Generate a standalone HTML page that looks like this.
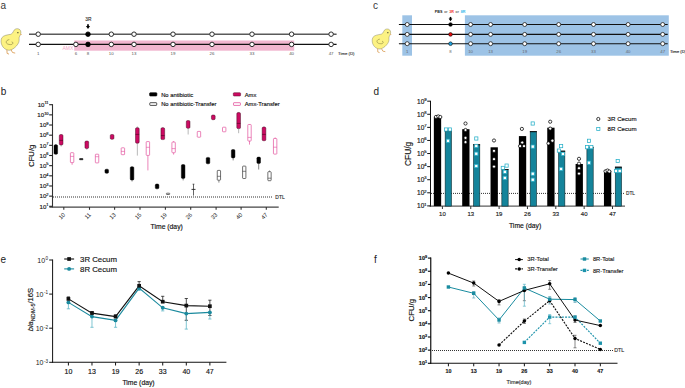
<!DOCTYPE html>
<html><head><meta charset="utf-8"><title>Figure</title>
<style>
html,body{margin:0;padding:0;background:#fff;}
body{width:685px;height:388px;overflow:hidden;}
svg{display:block;font-family:"Liberation Sans", sans-serif;}
</style></head><body>
<svg width="685" height="388" viewBox="0 0 685 388">
<rect width="685" height="388" fill="#fff"/>
<text x="0.60" y="8.60" font-size="10" text-anchor="start" fill="#3a3a3a"  font-weight="normal" >a</text>
<g>
<path d="M10.8,34.3 C12.2,33.6 13.0,32.6 13.5,31.2 C14.2,29.4 15.8,28.6 17.4,28.7 C19.4,28.8 20.9,30.2 20.9,32.3 C20.9,33.9 20.5,34.9 19.9,35.8 C19.3,36.7 19.0,37.6 19.1,38.6 C19.3,40.6 19.0,42.4 17.9,44.0 C16.4,46.4 13.8,48.8 10.8,50.0 C7.6,51.0 4.0,48.9 2.3,46.0 C0.8,43.4 0.6,40.0 1.8,37.8 C3.4,35.4 7.2,34.8 10.8,34.3 Z" fill="#fcf283" stroke="#555540" stroke-width="0.35"/>
<path d="M9.3,39.6 C7.6,39.8 6.1,40.8 6.2,42.2 C6.3,43.8 8.4,44.6 10.6,44.6 C12.0,44.6 13.0,43.8 12.9,42.9 C12.8,42.2 12.2,41.8 11.6,41.9" fill="none" stroke="#5e5a2c" stroke-width="0.45"/>
<ellipse cx="17.9" cy="32.7" rx="0.75" ry="0.65" fill="#4a4a30"/>
<path d="M20.6,33.8 L22.0,34.5 L20.6,35.2 Z" fill="#eba24a"/>
<path d="M6.9,49.8 L7.1,53.4 L9.0,54.1 M11.0,49.6 L12.5,52.5 L15.2,53.1" fill="none" stroke="#dca25c" stroke-width="0.9"/>
</g>
<rect x="74.20" y="40.50" width="220.00" height="10.20" fill="#f1b6cf" stroke="none" stroke-width="1" />
<line x1="29.00" y1="34.20" x2="336.60" y2="34.20" stroke="#5a5a5a" stroke-width="1.6" />
<line x1="29.00" y1="44.40" x2="336.60" y2="44.40" stroke="#111" stroke-width="1.15" />
<circle cx="38.20" cy="34.20" r="2.25" fill="#fff" stroke="#222" stroke-width="0.95"/>
<circle cx="38.20" cy="44.40" r="2.25" fill="#fff" stroke="#222" stroke-width="0.95"/>
<text x="38.20" y="55.20" font-size="4.4" text-anchor="middle" fill="#555"  font-weight="normal" >1</text>
<circle cx="75.90" cy="44.40" r="2.25" fill="#fff" stroke="#222" stroke-width="0.95"/>
<text x="75.90" y="55.20" font-size="4.4" text-anchor="middle" fill="#555"  font-weight="normal" >6</text>
<circle cx="88.00" cy="34.20" r="2.3" fill="#000" stroke="#000" stroke-width="0.8"/>
<circle cx="88.00" cy="44.40" r="2.3" fill="#000" stroke="#000" stroke-width="0.8"/>
<text x="88.00" y="55.20" font-size="4.4" text-anchor="middle" fill="#555"  font-weight="normal" >8</text>
<circle cx="111.30" cy="34.20" r="2.25" fill="#fff" stroke="#222" stroke-width="0.95"/>
<circle cx="111.30" cy="44.40" r="2.25" fill="#fff" stroke="#222" stroke-width="0.95"/>
<text x="111.30" y="55.20" font-size="4.4" text-anchor="middle" fill="#555"  font-weight="normal" >10</text>
<circle cx="134.00" cy="34.20" r="2.25" fill="#fff" stroke="#222" stroke-width="0.95"/>
<circle cx="134.00" cy="44.40" r="2.25" fill="#fff" stroke="#222" stroke-width="0.95"/>
<text x="134.00" y="55.20" font-size="4.4" text-anchor="middle" fill="#555"  font-weight="normal" >13</text>
<circle cx="173.00" cy="34.20" r="2.25" fill="#fff" stroke="#222" stroke-width="0.95"/>
<circle cx="173.00" cy="44.40" r="2.25" fill="#fff" stroke="#222" stroke-width="0.95"/>
<text x="173.00" y="55.20" font-size="4.4" text-anchor="middle" fill="#555"  font-weight="normal" >19</text>
<circle cx="212.00" cy="34.20" r="2.25" fill="#fff" stroke="#222" stroke-width="0.95"/>
<circle cx="212.00" cy="44.40" r="2.25" fill="#fff" stroke="#222" stroke-width="0.95"/>
<text x="212.00" y="55.20" font-size="4.4" text-anchor="middle" fill="#555"  font-weight="normal" >26</text>
<circle cx="252.00" cy="34.20" r="2.25" fill="#fff" stroke="#222" stroke-width="0.95"/>
<circle cx="252.00" cy="44.40" r="2.25" fill="#fff" stroke="#222" stroke-width="0.95"/>
<text x="252.00" y="55.20" font-size="4.4" text-anchor="middle" fill="#555"  font-weight="normal" >33</text>
<circle cx="291.60" cy="34.20" r="2.25" fill="#fff" stroke="#222" stroke-width="0.95"/>
<circle cx="291.60" cy="44.40" r="2.25" fill="#fff" stroke="#222" stroke-width="0.95"/>
<text x="291.60" y="55.20" font-size="4.4" text-anchor="middle" fill="#555"  font-weight="normal" >40</text>
<circle cx="331.10" cy="34.20" r="2.25" fill="#fff" stroke="#222" stroke-width="0.95"/>
<circle cx="331.10" cy="44.40" r="2.25" fill="#fff" stroke="#222" stroke-width="0.95"/>
<text x="331.10" y="55.20" font-size="4.4" text-anchor="middle" fill="#555"  font-weight="normal" >47</text>
<text x="88.30" y="20.80" font-size="4.8" text-anchor="middle" fill="#333" stroke="#333" stroke-width="0.15" font-weight="normal" >3R</text>
<line x1="88.00" y1="24.30" x2="88.00" y2="26.80" stroke="#000" stroke-width="1.7" />
<path d="M85.9,26.1 L90.1,26.1 L88,28.9 Z" fill="#000"/>
<text x="67.80" y="50.00" font-size="5" text-anchor="middle" fill="#f3a6c6"  font-weight="normal" >AMX</text>
<text x="338.00" y="55.20" font-size="4.25" text-anchor="start" fill="#444" stroke="#444" stroke-width="0.15" font-weight="normal" >Time (D)</text>
<text x="373.10" y="8.50" font-size="10" text-anchor="start" fill="#3a3a3a"  font-weight="normal" >c</text>
<g transform="translate(371.2,2.3) scale(0.93)"><g>
<path d="M10.8,34.3 C12.2,33.6 13.0,32.6 13.5,31.2 C14.2,29.4 15.8,28.6 17.4,28.7 C19.4,28.8 20.9,30.2 20.9,32.3 C20.9,33.9 20.5,34.9 19.9,35.8 C19.3,36.7 19.0,37.6 19.1,38.6 C19.3,40.6 19.0,42.4 17.9,44.0 C16.4,46.4 13.8,48.8 10.8,50.0 C7.6,51.0 4.0,48.9 2.3,46.0 C0.8,43.4 0.6,40.0 1.8,37.8 C3.4,35.4 7.2,34.8 10.8,34.3 Z" fill="#fcf283" stroke="#555540" stroke-width="0.35"/>
<path d="M9.3,39.6 C7.6,39.8 6.1,40.8 6.2,42.2 C6.3,43.8 8.4,44.6 10.6,44.6 C12.0,44.6 13.0,43.8 12.9,42.9 C12.8,42.2 12.2,41.8 11.6,41.9" fill="none" stroke="#5e5a2c" stroke-width="0.45"/>
<ellipse cx="17.9" cy="32.7" rx="0.75" ry="0.65" fill="#4a4a30"/>
<path d="M20.6,33.8 L22.0,34.5 L20.6,35.2 Z" fill="#eba24a"/>
<path d="M6.9,49.8 L7.1,53.4 L9.0,54.1 M11.0,49.6 L12.5,52.5 L15.2,53.1" fill="none" stroke="#dca25c" stroke-width="0.9"/>
</g></g>
<rect x="402.30" y="15.30" width="9.70" height="40.40" fill="#9dc3e6" stroke="none" stroke-width="1" />
<rect x="464.90" y="15.30" width="203.90" height="40.40" fill="#9dc3e6" stroke="none" stroke-width="1" />
<line x1="398.90" y1="24.50" x2="667.70" y2="24.50" stroke="#111" stroke-width="1.1" />
<line x1="398.90" y1="34.40" x2="667.70" y2="34.40" stroke="#111" stroke-width="1.1" />
<line x1="398.90" y1="43.70" x2="667.70" y2="43.70" stroke="#111" stroke-width="1.1" />
<circle cx="407.20" cy="24.50" r="2.0" fill="#fff" stroke="#222" stroke-width="0.8"/>
<circle cx="407.20" cy="34.40" r="2.0" fill="#fff" stroke="#222" stroke-width="0.8"/>
<circle cx="407.20" cy="43.70" r="2.0" fill="#fff" stroke="#222" stroke-width="0.8"/>
<text x="407.20" y="53.40" font-size="4.3" text-anchor="middle" fill="#666"  font-weight="normal" >1</text>
<circle cx="450.50" cy="24.50" r="1.85" fill="#000" stroke="#111" stroke-width="0.6"/>
<circle cx="450.50" cy="34.40" r="1.85" fill="#e50c0c" stroke="#111" stroke-width="0.6"/>
<circle cx="450.50" cy="43.70" r="1.85" fill="#1fa3e0" stroke="#111" stroke-width="0.6"/>
<text x="450.50" y="53.40" font-size="4.3" text-anchor="middle" fill="#666"  font-weight="normal" >8</text>
<circle cx="470.60" cy="24.50" r="2.0" fill="#fff" stroke="#222" stroke-width="0.8"/>
<circle cx="470.60" cy="34.40" r="2.0" fill="#fff" stroke="#222" stroke-width="0.8"/>
<circle cx="470.60" cy="43.70" r="2.0" fill="#fff" stroke="#222" stroke-width="0.8"/>
<text x="470.60" y="53.40" font-size="4.3" text-anchor="middle" fill="#666"  font-weight="normal" >10</text>
<circle cx="490.60" cy="24.50" r="2.0" fill="#fff" stroke="#222" stroke-width="0.8"/>
<circle cx="490.60" cy="34.40" r="2.0" fill="#fff" stroke="#222" stroke-width="0.8"/>
<circle cx="490.60" cy="43.70" r="2.0" fill="#fff" stroke="#222" stroke-width="0.8"/>
<text x="490.60" y="53.40" font-size="4.3" text-anchor="middle" fill="#666"  font-weight="normal" >13</text>
<circle cx="524.70" cy="24.50" r="2.0" fill="#fff" stroke="#222" stroke-width="0.8"/>
<circle cx="524.70" cy="34.40" r="2.0" fill="#fff" stroke="#222" stroke-width="0.8"/>
<circle cx="524.70" cy="43.70" r="2.0" fill="#fff" stroke="#222" stroke-width="0.8"/>
<text x="524.70" y="53.40" font-size="4.3" text-anchor="middle" fill="#666"  font-weight="normal" >19</text>
<circle cx="558.70" cy="24.50" r="2.0" fill="#fff" stroke="#222" stroke-width="0.8"/>
<circle cx="558.70" cy="34.40" r="2.0" fill="#fff" stroke="#222" stroke-width="0.8"/>
<circle cx="558.70" cy="43.70" r="2.0" fill="#fff" stroke="#222" stroke-width="0.8"/>
<text x="558.70" y="53.40" font-size="4.3" text-anchor="middle" fill="#666"  font-weight="normal" >26</text>
<circle cx="593.50" cy="24.50" r="2.0" fill="#fff" stroke="#222" stroke-width="0.8"/>
<circle cx="593.50" cy="34.40" r="2.0" fill="#fff" stroke="#222" stroke-width="0.8"/>
<circle cx="593.50" cy="43.70" r="2.0" fill="#fff" stroke="#222" stroke-width="0.8"/>
<text x="593.50" y="53.40" font-size="4.3" text-anchor="middle" fill="#666"  font-weight="normal" >33</text>
<circle cx="628.10" cy="24.50" r="2.0" fill="#fff" stroke="#222" stroke-width="0.8"/>
<circle cx="628.10" cy="34.40" r="2.0" fill="#fff" stroke="#222" stroke-width="0.8"/>
<circle cx="628.10" cy="43.70" r="2.0" fill="#fff" stroke="#222" stroke-width="0.8"/>
<text x="628.10" y="53.40" font-size="4.3" text-anchor="middle" fill="#666"  font-weight="normal" >40</text>
<circle cx="662.70" cy="24.50" r="2.0" fill="#fff" stroke="#222" stroke-width="0.8"/>
<circle cx="662.70" cy="34.40" r="2.0" fill="#fff" stroke="#222" stroke-width="0.8"/>
<circle cx="662.70" cy="43.70" r="2.0" fill="#fff" stroke="#222" stroke-width="0.8"/>
<text x="662.70" y="53.40" font-size="4.3" text-anchor="middle" fill="#666"  font-weight="normal" >47</text>
<text x="450.1" y="13.2" font-size="3.7" text-anchor="middle" font-weight="bold" fill="#222" word-spacing="0.7">PBS <tspan font-weight="normal">or</tspan> <tspan fill="#f03030">3R</tspan> <tspan font-weight="normal">or</tspan> <tspan fill="#3ab8ea">8R</tspan></text>
<line x1="450.50" y1="16.90" x2="450.50" y2="19.20" stroke="#000" stroke-width="1.6" />
<path d="M448.6,18.6 L452.4,18.6 L450.5,21.2 Z" fill="#000"/>
<text x="669.90" y="53.30" font-size="4.25" text-anchor="start" fill="#333" stroke="#333" stroke-width="0.15" font-weight="normal" >Time (D)</text>
<text x="0.70" y="94.90" font-size="10" text-anchor="start" fill="#222"  font-weight="normal" >b</text>
<line x1="52.50" y1="104.20" x2="52.50" y2="207.50" stroke="#333" stroke-width="1.1" />
<line x1="49.40" y1="207.10" x2="278.70" y2="207.10" stroke="#444" stroke-width="1.25" />
<line x1="49.20" y1="206.30" x2="52.50" y2="206.30" stroke="#222" stroke-width="1.1" />
<text x="48.60" y="208.50" font-size="6.1" text-anchor="end" fill="#1a1a1a" stroke="#1a1a1a" stroke-width="0.18" font-weight="normal">10<tspan font-size="4.0" dy="-2.44" dx="0">1</tspan></text>
<line x1="49.20" y1="196.14" x2="52.50" y2="196.14" stroke="#222" stroke-width="1.1" />
<text x="48.60" y="198.34" font-size="6.1" text-anchor="end" fill="#1a1a1a" stroke="#1a1a1a" stroke-width="0.18" font-weight="normal">10<tspan font-size="4.0" dy="-2.44" dx="0">2</tspan></text>
<line x1="49.20" y1="185.98" x2="52.50" y2="185.98" stroke="#222" stroke-width="1.1" />
<text x="48.60" y="188.18" font-size="6.1" text-anchor="end" fill="#1a1a1a" stroke="#1a1a1a" stroke-width="0.18" font-weight="normal">10<tspan font-size="4.0" dy="-2.44" dx="0">3</tspan></text>
<line x1="49.20" y1="175.82" x2="52.50" y2="175.82" stroke="#222" stroke-width="1.1" />
<text x="48.60" y="178.02" font-size="6.1" text-anchor="end" fill="#1a1a1a" stroke="#1a1a1a" stroke-width="0.18" font-weight="normal">10<tspan font-size="4.0" dy="-2.44" dx="0">4</tspan></text>
<line x1="49.20" y1="165.66" x2="52.50" y2="165.66" stroke="#222" stroke-width="1.1" />
<text x="48.60" y="167.86" font-size="6.1" text-anchor="end" fill="#1a1a1a" stroke="#1a1a1a" stroke-width="0.18" font-weight="normal">10<tspan font-size="4.0" dy="-2.44" dx="0">5</tspan></text>
<line x1="49.20" y1="155.50" x2="52.50" y2="155.50" stroke="#222" stroke-width="1.1" />
<text x="48.60" y="157.70" font-size="6.1" text-anchor="end" fill="#1a1a1a" stroke="#1a1a1a" stroke-width="0.18" font-weight="normal">10<tspan font-size="4.0" dy="-2.44" dx="0">6</tspan></text>
<line x1="49.20" y1="145.34" x2="52.50" y2="145.34" stroke="#222" stroke-width="1.1" />
<text x="48.60" y="147.54" font-size="6.1" text-anchor="end" fill="#1a1a1a" stroke="#1a1a1a" stroke-width="0.18" font-weight="normal">10<tspan font-size="4.0" dy="-2.44" dx="0">7</tspan></text>
<line x1="49.20" y1="135.18" x2="52.50" y2="135.18" stroke="#222" stroke-width="1.1" />
<text x="48.60" y="137.38" font-size="6.1" text-anchor="end" fill="#1a1a1a" stroke="#1a1a1a" stroke-width="0.18" font-weight="normal">10<tspan font-size="4.0" dy="-2.44" dx="0">8</tspan></text>
<line x1="49.20" y1="125.02" x2="52.50" y2="125.02" stroke="#222" stroke-width="1.1" />
<text x="48.60" y="127.22" font-size="6.1" text-anchor="end" fill="#1a1a1a" stroke="#1a1a1a" stroke-width="0.18" font-weight="normal">10<tspan font-size="4.0" dy="-2.44" dx="0">9</tspan></text>
<line x1="49.20" y1="114.86" x2="52.50" y2="114.86" stroke="#222" stroke-width="1.1" />
<text x="48.60" y="117.06" font-size="6.1" text-anchor="end" fill="#1a1a1a" stroke="#1a1a1a" stroke-width="0.18" font-weight="normal">10<tspan font-size="4.0" dy="-2.44" dx="0">10</tspan></text>
<line x1="49.20" y1="104.70" x2="52.50" y2="104.70" stroke="#222" stroke-width="1.1" />
<text x="48.60" y="106.90" font-size="6.1" text-anchor="end" fill="#1a1a1a" stroke="#1a1a1a" stroke-width="0.18" font-weight="normal">10<tspan font-size="4.0" dy="-2.44" dx="0">11</tspan></text>
<line x1="63.80" y1="207.00" x2="63.80" y2="209.80" stroke="#333" stroke-width="1.1" />
<text x="0" y="0" font-size="5.8" text-anchor="end" fill="#222" transform="translate(65.60,215.20) rotate(-45)">10</text>
<line x1="89.50" y1="207.00" x2="89.50" y2="209.80" stroke="#333" stroke-width="1.1" />
<text x="0" y="0" font-size="5.8" text-anchor="end" fill="#222" transform="translate(91.30,215.20) rotate(-45)">11</text>
<line x1="114.60" y1="207.00" x2="114.60" y2="209.80" stroke="#333" stroke-width="1.1" />
<text x="0" y="0" font-size="5.8" text-anchor="end" fill="#222" transform="translate(116.40,215.20) rotate(-45)">13</text>
<line x1="140.00" y1="207.00" x2="140.00" y2="209.80" stroke="#333" stroke-width="1.1" />
<text x="0" y="0" font-size="5.8" text-anchor="end" fill="#222" transform="translate(141.80,215.20) rotate(-45)">15</text>
<line x1="165.40" y1="207.00" x2="165.40" y2="209.80" stroke="#333" stroke-width="1.1" />
<text x="0" y="0" font-size="5.8" text-anchor="end" fill="#222" transform="translate(167.20,215.20) rotate(-45)">19</text>
<line x1="190.70" y1="207.00" x2="190.70" y2="209.80" stroke="#333" stroke-width="1.1" />
<text x="0" y="0" font-size="5.8" text-anchor="end" fill="#222" transform="translate(192.50,215.20) rotate(-45)">26</text>
<line x1="216.10" y1="207.00" x2="216.10" y2="209.80" stroke="#333" stroke-width="1.1" />
<text x="0" y="0" font-size="5.8" text-anchor="end" fill="#222" transform="translate(217.90,215.20) rotate(-45)">33</text>
<line x1="241.10" y1="207.00" x2="241.10" y2="209.80" stroke="#333" stroke-width="1.1" />
<text x="0" y="0" font-size="5.8" text-anchor="end" fill="#222" transform="translate(242.90,215.20) rotate(-45)">40</text>
<line x1="266.30" y1="207.00" x2="266.30" y2="209.80" stroke="#333" stroke-width="1.1" />
<text x="0" y="0" font-size="5.8" text-anchor="end" fill="#222" transform="translate(268.10,215.20) rotate(-45)">47</text>
<text x="166.70" y="228.90" font-size="6.8" text-anchor="middle" fill="#111" stroke="#111" stroke-width="0.15" font-weight="normal" >Time (day)</text>
<text x="0" y="0" font-size="7.8" text-anchor="middle" fill="#111" stroke="#111" stroke-width="0.15" transform="translate(33.5,155.8) rotate(-90)">CFU/g</text>
<line x1="53.00" y1="197.00" x2="272.50" y2="197.00" stroke="#333" stroke-width="1.1" stroke-dasharray="1,1"/>
<text x="275.30" y="198.60" font-size="5.0" text-anchor="start" fill="#333" stroke="#333" stroke-width="0.15" font-weight="normal" >DTL</text>
<rect x="149.60" y="92.70" width="7.30" height="3.30" fill="#000" stroke="#000" stroke-width="0.6" rx="0.8"/>
<rect x="149.80" y="102.70" width="6.90" height="2.70" fill="#fff" stroke="#222" stroke-width="0.8" rx="0.5"/>
<rect x="233.30" y="92.70" width="7.30" height="3.30" fill="#cc0a62" stroke="#5a0a28" stroke-width="0.5" rx="0.8"/>
<rect x="233.50" y="102.70" width="6.90" height="2.70" fill="#fff" stroke="#e2509c" stroke-width="0.8" rx="0.5"/>
<text x="161.20" y="96.70" font-size="5.8" text-anchor="start" fill="#111" stroke="#111" stroke-width="0.15" font-weight="normal" >No antibiotic</text>
<text x="161.20" y="105.70" font-size="5.8" text-anchor="start" fill="#111" stroke="#111" stroke-width="0.15" font-weight="normal" >No antibiotic-Transfer</text>
<text x="244.70" y="96.70" font-size="5.8" text-anchor="start" fill="#111" stroke="#111" stroke-width="0.15" font-weight="normal" >Amx</text>
<text x="244.70" y="105.70" font-size="5.8" text-anchor="start" fill="#111" stroke="#111" stroke-width="0.15" font-weight="normal" >Amx-Transfer</text>
<line x1="55.80" y1="144.00" x2="55.80" y2="144.80" stroke="#555" stroke-width="0.7" />
<rect x="54.00" y="144.80" width="3.6" height="9.50" rx="1.20" fill="#000" stroke="#000" stroke-width="0.45"/>
<line x1="61.15" y1="134.00" x2="61.15" y2="134.60" stroke="#999" stroke-width="0.7" />
<line x1="61.15" y1="145.00" x2="61.15" y2="146.50" stroke="#999" stroke-width="0.7" />
<rect x="59.30" y="134.60" width="3.7" height="10.40" rx="1.20" fill="#cc0a62" stroke="#3a0a1e" stroke-width="0.45"/>
<line x1="59.30" y1="140.40" x2="63.00" y2="140.40" stroke="#4a0620" stroke-width="0.6" />
<line x1="72.10" y1="162.60" x2="72.10" y2="164.80" stroke="#e2509c" stroke-width="0.7" />
<rect x="70.40" y="152.70" width="3.4" height="9.90" rx="0.60" fill="#fff" stroke="#e2509c" stroke-width="0.7"/>
<line x1="70.40" y1="156.40" x2="73.80" y2="156.40" stroke="#e2509c" stroke-width="0.6" />
<rect x="79.45" y="158.50" width="3.6" height="1.30" rx="0.43" fill="#000" stroke="#000" stroke-width="0.45"/>
<line x1="86.80" y1="148.50" x2="86.80" y2="149.80" stroke="#999" stroke-width="0.7" />
<rect x="84.95" y="141.00" width="3.7" height="7.50" rx="1.20" fill="#cc0a62" stroke="#3a0a1e" stroke-width="0.45"/>
<rect x="95.35" y="154.20" width="3.4" height="8.70" rx="0.60" fill="#fff" stroke="#e2509c" stroke-width="0.7"/>
<line x1="95.35" y1="156.70" x2="98.75" y2="156.70" stroke="#e2509c" stroke-width="0.6" />
<rect x="104.95" y="169.20" width="3.6" height="4.10" rx="1.20" fill="#000" stroke="#000" stroke-width="0.45"/>
<rect x="110.25" y="134.50" width="3.7" height="4.80" rx="1.20" fill="#cc0a62" stroke="#3a0a1e" stroke-width="0.45"/>
<rect x="121.20" y="147.80" width="3.4" height="6.90" rx="0.60" fill="#fff" stroke="#e2509c" stroke-width="0.7"/>
<line x1="121.20" y1="151.40" x2="124.60" y2="151.40" stroke="#e2509c" stroke-width="0.6" />
<line x1="132.05" y1="180.10" x2="132.05" y2="181.50" stroke="#555" stroke-width="0.7" />
<rect x="130.25" y="166.70" width="3.6" height="13.40" rx="1.20" fill="#000" stroke="#000" stroke-width="0.45"/>
<line x1="137.35" y1="126.40" x2="137.35" y2="127.70" stroke="#999" stroke-width="0.7" />
<line x1="137.35" y1="143.20" x2="137.35" y2="155.60" stroke="#999" stroke-width="0.7" />
<rect x="135.50" y="127.70" width="3.7" height="15.50" rx="1.20" fill="#cc0a62" stroke="#3a0a1e" stroke-width="0.45"/>
<line x1="135.50" y1="134.40" x2="139.20" y2="134.40" stroke="#4a0620" stroke-width="0.6" />
<line x1="147.90" y1="155.40" x2="147.90" y2="170.40" stroke="#e2509c" stroke-width="0.7" />
<rect x="146.20" y="141.60" width="3.4" height="13.80" rx="0.60" fill="#fff" stroke="#e2509c" stroke-width="0.7"/>
<line x1="146.20" y1="147.30" x2="149.60" y2="147.30" stroke="#e2509c" stroke-width="0.6" />
<rect x="155.30" y="184.00" width="3.6" height="4.80" rx="1.20" fill="#000" stroke="#000" stroke-width="0.45"/>
<line x1="162.80" y1="127.20" x2="162.80" y2="127.70" stroke="#999" stroke-width="0.7" />
<rect x="160.95" y="127.70" width="3.7" height="11.90" rx="1.20" fill="#cc0a62" stroke="#3a0a1e" stroke-width="0.45"/>
<line x1="160.95" y1="135.60" x2="164.65" y2="135.60" stroke="#4a0620" stroke-width="0.6" />
<rect x="166.40" y="193.20" width="3.3" height="1.30" rx="0.43" fill="#fff" stroke="#333" stroke-width="0.7"/>
<line x1="173.60" y1="141.10" x2="173.60" y2="142.10" stroke="#e2509c" stroke-width="0.7" />
<line x1="173.60" y1="152.70" x2="173.60" y2="154.60" stroke="#e2509c" stroke-width="0.7" />
<rect x="171.90" y="142.10" width="3.4" height="10.60" rx="0.60" fill="#fff" stroke="#e2509c" stroke-width="0.7"/>
<line x1="171.90" y1="148.60" x2="175.30" y2="148.60" stroke="#e2509c" stroke-width="0.6" />
<line x1="183.15" y1="178.40" x2="183.15" y2="180.40" stroke="#555" stroke-width="0.7" />
<rect x="181.35" y="164.60" width="3.6" height="13.80" rx="1.20" fill="#000" stroke="#000" stroke-width="0.45"/>
<line x1="188.15" y1="128.30" x2="188.15" y2="134.50" stroke="#999" stroke-width="0.7" />
<rect x="186.30" y="120.60" width="3.7" height="7.70" rx="1.20" fill="#cc0a62" stroke="#3a0a1e" stroke-width="0.45"/>
<rect x="197.25" y="131.40" width="3.4" height="5.80" rx="0.60" fill="#fff" stroke="#e2509c" stroke-width="0.7"/>
<rect x="206.20" y="157.40" width="3.6" height="6.40" rx="1.20" fill="#000" stroke="#000" stroke-width="0.45"/>
<rect x="211.45" y="115.00" width="3.7" height="4.70" rx="1.20" fill="#cc0a62" stroke="#3a0a1e" stroke-width="0.45"/>
<line x1="218.90" y1="180.20" x2="218.90" y2="182.60" stroke="#555" stroke-width="0.7" />
<rect x="217.25" y="170.40" width="3.3" height="9.80" rx="0.60" fill="#fff" stroke="#333" stroke-width="0.7"/>
<line x1="217.25" y1="176.30" x2="220.55" y2="176.30" stroke="#333" stroke-width="0.6" />
<rect x="222.50" y="127.20" width="3.4" height="4.60" rx="0.60" fill="#fff" stroke="#e2509c" stroke-width="0.7"/>
<line x1="233.15" y1="157.90" x2="233.15" y2="160.40" stroke="#555" stroke-width="0.7" />
<rect x="231.35" y="149.60" width="3.6" height="8.30" rx="1.20" fill="#000" stroke="#000" stroke-width="0.45"/>
<line x1="238.65" y1="111.90" x2="238.65" y2="112.60" stroke="#999" stroke-width="0.7" />
<line x1="238.65" y1="128.60" x2="238.65" y2="133.20" stroke="#999" stroke-width="0.7" />
<rect x="236.80" y="112.60" width="3.7" height="16.00" rx="1.20" fill="#cc0a62" stroke="#3a0a1e" stroke-width="0.45"/>
<line x1="236.80" y1="123.40" x2="240.50" y2="123.40" stroke="#4a0620" stroke-width="0.6" />
<rect x="242.60" y="166.10" width="3.3" height="12.40" rx="0.60" fill="#fff" stroke="#333" stroke-width="0.7"/>
<line x1="242.60" y1="171.30" x2="245.90" y2="171.30" stroke="#333" stroke-width="0.6" />
<line x1="249.50" y1="124.00" x2="249.50" y2="124.50" stroke="#e2509c" stroke-width="0.7" />
<line x1="249.50" y1="141.00" x2="249.50" y2="144.60" stroke="#e2509c" stroke-width="0.7" />
<rect x="247.80" y="124.50" width="3.4" height="16.50" rx="0.60" fill="#fff" stroke="#e2509c" stroke-width="0.7"/>
<line x1="247.80" y1="137.40" x2="251.20" y2="137.40" stroke="#e2509c" stroke-width="0.6" />
<line x1="258.70" y1="163.50" x2="258.70" y2="169.50" stroke="#555" stroke-width="0.7" />
<rect x="256.90" y="157.10" width="3.6" height="6.40" rx="1.20" fill="#000" stroke="#000" stroke-width="0.45"/>
<line x1="264.00" y1="126.30" x2="264.00" y2="127.10" stroke="#999" stroke-width="0.7" />
<rect x="262.15" y="127.10" width="3.7" height="13.60" rx="1.20" fill="#cc0a62" stroke="#3a0a1e" stroke-width="0.45"/>
<line x1="262.15" y1="134.40" x2="265.85" y2="134.40" stroke="#4a0620" stroke-width="0.6" />
<line x1="269.50" y1="170.50" x2="269.50" y2="171.70" stroke="#555" stroke-width="0.7" />
<rect x="267.85" y="171.70" width="3.3" height="9.00" rx="0.60" fill="#fff" stroke="#333" stroke-width="0.7"/>
<line x1="267.85" y1="178.20" x2="271.15" y2="178.20" stroke="#333" stroke-width="0.6" />
<line x1="275.15" y1="137.40" x2="275.15" y2="138.50" stroke="#e2509c" stroke-width="0.7" />
<rect x="273.45" y="138.50" width="3.4" height="15.60" rx="0.60" fill="#fff" stroke="#e2509c" stroke-width="0.7"/>
<line x1="273.45" y1="147.20" x2="276.85" y2="147.20" stroke="#e2509c" stroke-width="0.6" />
<line x1="193.50" y1="184.20" x2="193.50" y2="195.60" stroke="#222" stroke-width="0.7" />
<line x1="191.50" y1="189.40" x2="195.50" y2="189.40" stroke="#222" stroke-width="0.9" />
<line x1="192.60" y1="184.20" x2="194.40" y2="184.20" stroke="#222" stroke-width="0.7" />
<text x="373.50" y="95.00" font-size="10" text-anchor="start" fill="#222"  font-weight="normal" >d</text>
<line x1="430.50" y1="100.80" x2="430.50" y2="206.60" stroke="#111" stroke-width="1" />
<line x1="429.50" y1="206.10" x2="625.00" y2="206.10" stroke="#333" stroke-width="1" />
<line x1="427.20" y1="205.90" x2="430.50" y2="205.90" stroke="#111" stroke-width="1" />
<text x="426.60" y="208.24" font-size="6.5" text-anchor="end" fill="#1a1a1a" stroke="#1a1a1a" stroke-width="0.18" font-weight="normal">10<tspan font-size="4.2" dy="-2.60" dx="0">1</tspan></text>
<line x1="427.20" y1="192.81" x2="430.50" y2="192.81" stroke="#111" stroke-width="1" />
<text x="426.60" y="195.15" font-size="6.5" text-anchor="end" fill="#1a1a1a" stroke="#1a1a1a" stroke-width="0.18" font-weight="normal">10<tspan font-size="4.2" dy="-2.60" dx="0">2</tspan></text>
<line x1="427.20" y1="179.72" x2="430.50" y2="179.72" stroke="#111" stroke-width="1" />
<text x="426.60" y="182.06" font-size="6.5" text-anchor="end" fill="#1a1a1a" stroke="#1a1a1a" stroke-width="0.18" font-weight="normal">10<tspan font-size="4.2" dy="-2.60" dx="0">3</tspan></text>
<line x1="427.20" y1="166.63" x2="430.50" y2="166.63" stroke="#111" stroke-width="1" />
<text x="426.60" y="168.97" font-size="6.5" text-anchor="end" fill="#1a1a1a" stroke="#1a1a1a" stroke-width="0.18" font-weight="normal">10<tspan font-size="4.2" dy="-2.60" dx="0">4</tspan></text>
<line x1="427.20" y1="153.54" x2="430.50" y2="153.54" stroke="#111" stroke-width="1" />
<text x="426.60" y="155.88" font-size="6.5" text-anchor="end" fill="#1a1a1a" stroke="#1a1a1a" stroke-width="0.18" font-weight="normal">10<tspan font-size="4.2" dy="-2.60" dx="0">5</tspan></text>
<line x1="427.20" y1="140.45" x2="430.50" y2="140.45" stroke="#111" stroke-width="1" />
<text x="426.60" y="142.79" font-size="6.5" text-anchor="end" fill="#1a1a1a" stroke="#1a1a1a" stroke-width="0.18" font-weight="normal">10<tspan font-size="4.2" dy="-2.60" dx="0">6</tspan></text>
<line x1="427.20" y1="127.36" x2="430.50" y2="127.36" stroke="#111" stroke-width="1" />
<text x="426.60" y="129.70" font-size="6.5" text-anchor="end" fill="#1a1a1a" stroke="#1a1a1a" stroke-width="0.18" font-weight="normal">10<tspan font-size="4.2" dy="-2.60" dx="0">7</tspan></text>
<line x1="427.20" y1="114.27" x2="430.50" y2="114.27" stroke="#111" stroke-width="1" />
<text x="426.60" y="116.61" font-size="6.5" text-anchor="end" fill="#1a1a1a" stroke="#1a1a1a" stroke-width="0.18" font-weight="normal">10<tspan font-size="4.2" dy="-2.60" dx="0">8</tspan></text>
<line x1="427.20" y1="101.18" x2="430.50" y2="101.18" stroke="#111" stroke-width="1" />
<text x="426.60" y="103.52" font-size="6.5" text-anchor="end" fill="#1a1a1a" stroke="#1a1a1a" stroke-width="0.18" font-weight="normal">10<tspan font-size="4.2" dy="-2.60" dx="0">9</tspan></text>
<line x1="442.40" y1="206.10" x2="442.40" y2="209.00" stroke="#333" stroke-width="1" />
<text x="442.40" y="216.20" font-size="6" text-anchor="middle" fill="#222" stroke="#222" stroke-width="0.15" font-weight="normal" >10</text>
<line x1="470.75" y1="206.10" x2="470.75" y2="209.00" stroke="#333" stroke-width="1" />
<text x="470.75" y="216.20" font-size="6" text-anchor="middle" fill="#222" stroke="#222" stroke-width="0.15" font-weight="normal" >13</text>
<line x1="499.10" y1="206.10" x2="499.10" y2="209.00" stroke="#333" stroke-width="1" />
<text x="499.10" y="216.20" font-size="6" text-anchor="middle" fill="#222" stroke="#222" stroke-width="0.15" font-weight="normal" >19</text>
<line x1="527.45" y1="206.10" x2="527.45" y2="209.00" stroke="#333" stroke-width="1" />
<text x="527.45" y="216.20" font-size="6" text-anchor="middle" fill="#222" stroke="#222" stroke-width="0.15" font-weight="normal" >26</text>
<line x1="555.80" y1="206.10" x2="555.80" y2="209.00" stroke="#333" stroke-width="1" />
<text x="555.80" y="216.20" font-size="6" text-anchor="middle" fill="#222" stroke="#222" stroke-width="0.15" font-weight="normal" >33</text>
<line x1="584.15" y1="206.10" x2="584.15" y2="209.00" stroke="#333" stroke-width="1" />
<text x="584.15" y="216.20" font-size="6" text-anchor="middle" fill="#222" stroke="#222" stroke-width="0.15" font-weight="normal" >40</text>
<line x1="612.50" y1="206.10" x2="612.50" y2="209.00" stroke="#333" stroke-width="1" />
<text x="612.50" y="216.20" font-size="6" text-anchor="middle" fill="#222" stroke="#222" stroke-width="0.15" font-weight="normal" >47</text>
<text x="525.10" y="228.00" font-size="6.8" text-anchor="middle" fill="#111" stroke="#111" stroke-width="0.15" font-weight="normal" >Time (day)</text>
<text x="0" y="0" font-size="8.4" text-anchor="middle" fill="#111" stroke="#111" stroke-width="0.15" transform="translate(410.7,153.9) rotate(-90)">CFU/g</text>
<line x1="431.00" y1="193.40" x2="624.40" y2="193.40" stroke="#333" stroke-width="1.0" stroke-dasharray="1,1"/>
<text x="626.00" y="195.20" font-size="4.75" text-anchor="start" fill="#333" stroke="#333" stroke-width="0.15" font-weight="normal" >DTL</text>
<rect x="433.85" y="116.80" width="7.30" height="89.30" fill="#000" stroke="none" stroke-width="1" />
<rect x="445.15" y="130.80" width="6.30" height="75.30" fill="#14849b" stroke="#0d2a30" stroke-width="0.6" />
<line x1="444.85" y1="130.90" x2="451.75" y2="130.90" stroke="#0a0a0a" stroke-width="1.0" />
<rect x="462.20" y="129.20" width="7.30" height="76.90" fill="#000" stroke="none" stroke-width="1" />
<rect x="473.50" y="144.70" width="6.30" height="61.40" fill="#14849b" stroke="#0d2a30" stroke-width="0.6" />
<line x1="473.20" y1="144.80" x2="480.10" y2="144.80" stroke="#0a0a0a" stroke-width="1.0" />
<rect x="490.55" y="147.30" width="7.30" height="58.80" fill="#000" stroke="none" stroke-width="1" />
<rect x="501.85" y="169.40" width="6.30" height="36.70" fill="#14849b" stroke="#0d2a30" stroke-width="0.6" />
<line x1="501.55" y1="169.50" x2="508.45" y2="169.50" stroke="#0a0a0a" stroke-width="1.0" />
<rect x="518.90" y="136.10" width="7.30" height="70.00" fill="#000" stroke="none" stroke-width="1" />
<rect x="530.20" y="131.60" width="6.30" height="74.50" fill="#14849b" stroke="#0d2a30" stroke-width="0.6" />
<line x1="529.90" y1="131.70" x2="536.80" y2="131.70" stroke="#0a0a0a" stroke-width="1.0" />
<rect x="547.25" y="127.70" width="7.30" height="78.40" fill="#000" stroke="none" stroke-width="1" />
<rect x="558.55" y="151.10" width="6.30" height="55.00" fill="#14849b" stroke="#0d2a30" stroke-width="0.6" />
<line x1="558.25" y1="151.20" x2="565.15" y2="151.20" stroke="#0a0a0a" stroke-width="1.0" />
<rect x="575.60" y="164.00" width="7.30" height="42.10" fill="#000" stroke="none" stroke-width="1" />
<rect x="586.90" y="147.20" width="6.30" height="58.90" fill="#14849b" stroke="#0d2a30" stroke-width="0.6" />
<line x1="586.60" y1="147.30" x2="593.50" y2="147.30" stroke="#0a0a0a" stroke-width="1.0" />
<rect x="603.95" y="170.80" width="7.30" height="35.30" fill="#000" stroke="none" stroke-width="1" />
<rect x="615.25" y="167.10" width="6.30" height="39.00" fill="#14849b" stroke="#0d2a30" stroke-width="0.6" />
<line x1="614.95" y1="167.20" x2="621.85" y2="167.20" stroke="#0a0a0a" stroke-width="1.0" />
<circle cx="436" cy="116.9" r="1.6" fill="#fff" stroke="#000" stroke-width="0.75"/>
<circle cx="438.3" cy="116.4" r="1.6" fill="#fff" stroke="#000" stroke-width="0.75"/>
<circle cx="440.3" cy="117" r="1.6" fill="#fff" stroke="#000" stroke-width="0.75"/>
<circle cx="465.5" cy="123.5" r="1.6" fill="#fff" stroke="#000" stroke-width="0.75"/>
<circle cx="465.5" cy="130.0" r="1.6" fill="#fff" stroke="#000" stroke-width="0.75"/>
<circle cx="465.5" cy="137.9" r="1.6" fill="#fff" stroke="#000" stroke-width="0.75"/>
<circle cx="465.5" cy="142.1" r="1.6" fill="#fff" stroke="#000" stroke-width="0.75"/>
<circle cx="494.0" cy="140.5" r="1.6" fill="#fff" stroke="#000" stroke-width="0.75"/>
<circle cx="494.0" cy="150.9" r="1.6" fill="#fff" stroke="#000" stroke-width="0.75"/>
<circle cx="494.0" cy="159.1" r="1.6" fill="#fff" stroke="#000" stroke-width="0.75"/>
<circle cx="494.0" cy="166.6" r="1.6" fill="#fff" stroke="#000" stroke-width="0.75"/>
<circle cx="521.9" cy="128.9" r="1.6" fill="#fff" stroke="#000" stroke-width="0.75"/>
<circle cx="522.2" cy="142.5" r="1.6" fill="#fff" stroke="#000" stroke-width="0.75"/>
<circle cx="520.1" cy="146.1" r="1.6" fill="#fff" stroke="#000" stroke-width="0.75"/>
<circle cx="524.0" cy="146.1" r="1.6" fill="#fff" stroke="#000" stroke-width="0.75"/>
<circle cx="550.2" cy="121.7" r="1.6" fill="#fff" stroke="#000" stroke-width="0.75"/>
<circle cx="550.2" cy="128.6" r="1.6" fill="#fff" stroke="#000" stroke-width="0.75"/>
<circle cx="548.4" cy="143.4" r="1.6" fill="#fff" stroke="#000" stroke-width="0.75"/>
<circle cx="552.4" cy="140.7" r="1.6" fill="#fff" stroke="#000" stroke-width="0.75"/>
<circle cx="579.0" cy="158.8" r="1.6" fill="#fff" stroke="#000" stroke-width="0.75"/>
<circle cx="579.0" cy="163.6" r="1.6" fill="#fff" stroke="#000" stroke-width="0.75"/>
<circle cx="579.0" cy="168.2" r="1.6" fill="#fff" stroke="#000" stroke-width="0.75"/>
<circle cx="579.0" cy="173.6" r="1.6" fill="#fff" stroke="#000" stroke-width="0.75"/>
<circle cx="605.5" cy="171.3" r="1.6" fill="#fff" stroke="#000" stroke-width="0.75"/>
<circle cx="607.5" cy="170.5" r="1.6" fill="#fff" stroke="#000" stroke-width="0.75"/>
<circle cx="609.3" cy="171.5" r="1.6" fill="#fff" stroke="#000" stroke-width="0.75"/>
<rect x="444.5" y="127.9" width="3.2" height="3.2" fill="#fff" stroke="#25afc8" stroke-width="0.75"/>
<rect x="448.4" y="127.9" width="3.2" height="3.2" fill="#fff" stroke="#25afc8" stroke-width="0.75"/>
<rect x="446.4" y="139.20000000000002" width="3.2" height="3.2" fill="#fff" stroke="#25afc8" stroke-width="0.75"/>
<rect x="474.7" y="136.9" width="3.2" height="3.2" fill="#fff" stroke="#25afc8" stroke-width="0.75"/>
<rect x="474.7" y="144.3" width="3.2" height="3.2" fill="#fff" stroke="#25afc8" stroke-width="0.75"/>
<rect x="474.7" y="152.1" width="3.2" height="3.2" fill="#fff" stroke="#25afc8" stroke-width="0.75"/>
<rect x="474.7" y="164.4" width="3.2" height="3.2" fill="#fff" stroke="#25afc8" stroke-width="0.75"/>
<rect x="505.0" y="164.0" width="3.2" height="3.2" fill="#fff" stroke="#25afc8" stroke-width="0.75"/>
<rect x="501.2" y="166.3" width="3.2" height="3.2" fill="#fff" stroke="#25afc8" stroke-width="0.75"/>
<rect x="503.2" y="170.20000000000002" width="3.2" height="3.2" fill="#fff" stroke="#25afc8" stroke-width="0.75"/>
<rect x="503.2" y="176.3" width="3.2" height="3.2" fill="#fff" stroke="#25afc8" stroke-width="0.75"/>
<rect x="531.1" y="121.9" width="3.2" height="3.2" fill="#fff" stroke="#25afc8" stroke-width="0.75"/>
<rect x="531.1" y="145.0" width="3.2" height="3.2" fill="#fff" stroke="#25afc8" stroke-width="0.75"/>
<rect x="531.1" y="172.1" width="3.2" height="3.2" fill="#fff" stroke="#25afc8" stroke-width="0.75"/>
<rect x="531.1" y="178.1" width="3.2" height="3.2" fill="#fff" stroke="#25afc8" stroke-width="0.75"/>
<rect x="559.5" y="144.5" width="3.2" height="3.2" fill="#fff" stroke="#25afc8" stroke-width="0.75"/>
<rect x="557.3" y="149.0" width="3.2" height="3.2" fill="#fff" stroke="#25afc8" stroke-width="0.75"/>
<rect x="561.3" y="152.3" width="3.2" height="3.2" fill="#fff" stroke="#25afc8" stroke-width="0.75"/>
<rect x="559.5" y="167.3" width="3.2" height="3.2" fill="#fff" stroke="#25afc8" stroke-width="0.75"/>
<rect x="587.4" y="139.20000000000002" width="3.2" height="3.2" fill="#fff" stroke="#25afc8" stroke-width="0.75"/>
<rect x="585.5" y="145.6" width="3.2" height="3.2" fill="#fff" stroke="#25afc8" stroke-width="0.75"/>
<rect x="589.6999999999999" y="145.6" width="3.2" height="3.2" fill="#fff" stroke="#25afc8" stroke-width="0.75"/>
<rect x="587.4" y="161.1" width="3.2" height="3.2" fill="#fff" stroke="#25afc8" stroke-width="0.75"/>
<rect x="616.1" y="159.4" width="3.2" height="3.2" fill="#fff" stroke="#25afc8" stroke-width="0.75"/>
<rect x="614.4" y="169.3" width="3.2" height="3.2" fill="#fff" stroke="#25afc8" stroke-width="0.75"/>
<rect x="618.1" y="169.3" width="3.2" height="3.2" fill="#fff" stroke="#25afc8" stroke-width="0.75"/>
<circle cx="598.3" cy="119" r="1.6" fill="#fff" stroke="#000" stroke-width="0.75"/>
<rect x="596.7" y="127.4" width="3.2" height="3.2" fill="#fff" stroke="#25afc8" stroke-width="0.75"/>
<text x="607.60" y="121.20" font-size="6.15" text-anchor="start" fill="#111" stroke="#111" stroke-width="0.15" font-weight="normal" >3R Cecum</text>
<text x="607.60" y="131.20" font-size="6.15" text-anchor="start" fill="#111" stroke="#111" stroke-width="0.15" font-weight="normal" >8R Cecum</text>
<text x="0.60" y="262.80" font-size="10" text-anchor="start" fill="#222"  font-weight="normal" >e</text>
<line x1="52.60" y1="259.50" x2="52.60" y2="362.80" stroke="#111" stroke-width="1" />
<line x1="52.10" y1="362.30" x2="226.40" y2="362.30" stroke="#111" stroke-width="1.1" />
<line x1="49.20" y1="260.00" x2="52.60" y2="260.00" stroke="#111" stroke-width="1" />
<text x="48.00" y="262.52" font-size="7.0" text-anchor="end" fill="#222"  font-weight="normal">10<tspan font-size="4.6" dy="-2.20" dx="0.4">0</tspan></text>
<line x1="49.20" y1="294.10" x2="52.60" y2="294.10" stroke="#111" stroke-width="1" />
<text x="48.00" y="296.62" font-size="7.0" text-anchor="end" fill="#222"  font-weight="normal">10<tspan font-size="4.6" dy="-2.20" dx="0.4">-1</tspan></text>
<line x1="49.20" y1="328.20" x2="52.60" y2="328.20" stroke="#111" stroke-width="1" />
<text x="48.00" y="330.72" font-size="7.0" text-anchor="end" fill="#222"  font-weight="normal">10<tspan font-size="4.6" dy="-2.20" dx="0.4">-2</tspan></text>
<line x1="49.20" y1="362.30" x2="52.60" y2="362.30" stroke="#111" stroke-width="1" />
<text x="48.00" y="364.82" font-size="7.0" text-anchor="end" fill="#222"  font-weight="normal">10<tspan font-size="4.6" dy="-2.20" dx="0.4">-3</tspan></text>
<line x1="68.40" y1="362.30" x2="68.40" y2="365.50" stroke="#111" stroke-width="1" />
<text x="68.40" y="374.00" font-size="7" text-anchor="middle" fill="#111" stroke="#111" stroke-width="0.15" font-weight="normal" >10</text>
<line x1="91.98" y1="362.30" x2="91.98" y2="365.50" stroke="#111" stroke-width="1" />
<text x="91.98" y="374.00" font-size="7" text-anchor="middle" fill="#111" stroke="#111" stroke-width="0.15" font-weight="normal" >13</text>
<line x1="115.56" y1="362.30" x2="115.56" y2="365.50" stroke="#111" stroke-width="1" />
<text x="115.56" y="374.00" font-size="7" text-anchor="middle" fill="#111" stroke="#111" stroke-width="0.15" font-weight="normal" >19</text>
<line x1="139.14" y1="362.30" x2="139.14" y2="365.50" stroke="#111" stroke-width="1" />
<text x="139.14" y="374.00" font-size="7" text-anchor="middle" fill="#111" stroke="#111" stroke-width="0.15" font-weight="normal" >26</text>
<line x1="162.72" y1="362.30" x2="162.72" y2="365.50" stroke="#111" stroke-width="1" />
<text x="162.72" y="374.00" font-size="7" text-anchor="middle" fill="#111" stroke="#111" stroke-width="0.15" font-weight="normal" >33</text>
<line x1="186.30" y1="362.30" x2="186.30" y2="365.50" stroke="#111" stroke-width="1" />
<text x="186.30" y="374.00" font-size="7" text-anchor="middle" fill="#111" stroke="#111" stroke-width="0.15" font-weight="normal" >40</text>
<line x1="209.88" y1="362.30" x2="209.88" y2="365.50" stroke="#111" stroke-width="1" />
<text x="209.88" y="374.00" font-size="7" text-anchor="middle" fill="#111" stroke="#111" stroke-width="0.15" font-weight="normal" >47</text>
<text x="138.50" y="385.20" font-size="6.8" text-anchor="middle" fill="#111" stroke="#111" stroke-width="0.15" font-weight="normal" >Time (day)</text>
<text x="0" y="0" font-size="7.6" text-anchor="middle" fill="#111" stroke="#111" stroke-width="0.15" transform="translate(32.8,309.6) rotate(-90)"><tspan font-style="italic">bla</tspan><tspan font-size="5.6" dy="1.8">NDM-5</tspan><tspan dy="-1.8">/16S</tspan></text>
<line x1="68.40" y1="296.90" x2="68.40" y2="298.90" stroke="#222" stroke-width="0.8" />
<line x1="66.80" y1="296.90" x2="70.00" y2="296.90" stroke="#222" stroke-width="0.8" />
<line x1="68.40" y1="302.40" x2="68.40" y2="308.80" stroke="#5fb6c6" stroke-width="0.8" />
<line x1="66.80" y1="308.80" x2="70.00" y2="308.80" stroke="#5fb6c6" stroke-width="0.8" />
<line x1="91.98" y1="311.50" x2="91.98" y2="313.10" stroke="#222" stroke-width="0.8" />
<line x1="90.38" y1="311.50" x2="93.58" y2="311.50" stroke="#222" stroke-width="0.8" />
<line x1="91.98" y1="316.60" x2="91.98" y2="327.30" stroke="#5fb6c6" stroke-width="0.8" />
<line x1="90.38" y1="327.30" x2="93.58" y2="327.30" stroke="#5fb6c6" stroke-width="0.8" />
<line x1="115.56" y1="314.80" x2="115.56" y2="316.60" stroke="#222" stroke-width="0.8" />
<line x1="113.96" y1="314.80" x2="117.16" y2="314.80" stroke="#222" stroke-width="0.8" />
<line x1="115.56" y1="320.40" x2="115.56" y2="327.30" stroke="#5fb6c6" stroke-width="0.8" />
<line x1="113.96" y1="327.30" x2="117.16" y2="327.30" stroke="#5fb6c6" stroke-width="0.8" />
<line x1="139.14" y1="281.60" x2="139.14" y2="285.80" stroke="#222" stroke-width="0.8" />
<line x1="137.54" y1="281.60" x2="140.74" y2="281.60" stroke="#222" stroke-width="0.8" />
<line x1="139.14" y1="288.10" x2="139.14" y2="290.50" stroke="#5fb6c6" stroke-width="0.8" />
<line x1="137.54" y1="290.50" x2="140.74" y2="290.50" stroke="#5fb6c6" stroke-width="0.8" />
<line x1="162.72" y1="296.30" x2="162.72" y2="301.70" stroke="#222" stroke-width="0.8" />
<line x1="161.12" y1="296.30" x2="164.32" y2="296.30" stroke="#222" stroke-width="0.8" />
<line x1="162.72" y1="307.80" x2="162.72" y2="310.90" stroke="#5fb6c6" stroke-width="0.8" />
<line x1="161.12" y1="310.90" x2="164.32" y2="310.90" stroke="#5fb6c6" stroke-width="0.8" />
<line x1="186.30" y1="298.50" x2="186.30" y2="305.60" stroke="#222" stroke-width="0.8" />
<line x1="184.70" y1="298.50" x2="187.90" y2="298.50" stroke="#222" stroke-width="0.8" />
<line x1="186.30" y1="305.60" x2="186.30" y2="320.30" stroke="#222" stroke-width="0.8" />
<line x1="184.70" y1="320.30" x2="187.90" y2="320.30" stroke="#222" stroke-width="0.8" />
<line x1="186.30" y1="313.60" x2="186.30" y2="329.10" stroke="#5fb6c6" stroke-width="0.8" />
<line x1="184.70" y1="329.10" x2="187.90" y2="329.10" stroke="#5fb6c6" stroke-width="0.8" />
<line x1="209.88" y1="300.20" x2="209.88" y2="306.20" stroke="#222" stroke-width="0.8" />
<line x1="208.28" y1="300.20" x2="211.48" y2="300.20" stroke="#222" stroke-width="0.8" />
<line x1="209.88" y1="306.20" x2="209.88" y2="315.50" stroke="#222" stroke-width="0.8" />
<line x1="208.28" y1="315.50" x2="211.48" y2="315.50" stroke="#222" stroke-width="0.8" />
<line x1="209.88" y1="312.40" x2="209.88" y2="319.00" stroke="#5fb6c6" stroke-width="0.8" />
<line x1="208.28" y1="319.00" x2="211.48" y2="319.00" stroke="#5fb6c6" stroke-width="0.8" />
<polyline points="68.40,302.40 91.98,316.60 115.56,320.40 139.14,288.10 162.72,307.80 186.30,313.60 209.88,312.40" fill="none" stroke="#1b8a9e" stroke-width="1.1" />
<polyline points="68.40,298.90 91.98,313.10 115.56,316.60 139.14,285.80 162.72,301.70 186.30,305.60 209.88,306.20" fill="none" stroke="#111" stroke-width="1.1" />
<circle cx="68.40" cy="302.4" r="1.95" fill="#1b8a9e"/>
<rect x="66.55" y="297.04999999999995" width="3.7" height="3.7" fill="#111"/>
<circle cx="91.98" cy="316.6" r="1.95" fill="#1b8a9e"/>
<rect x="90.13" y="311.25" width="3.7" height="3.7" fill="#111"/>
<circle cx="115.56" cy="320.4" r="1.95" fill="#1b8a9e"/>
<rect x="113.71" y="314.75" width="3.7" height="3.7" fill="#111"/>
<circle cx="139.14" cy="288.1" r="1.95" fill="#1b8a9e"/>
<rect x="137.29" y="283.95" width="3.7" height="3.7" fill="#111"/>
<circle cx="162.72" cy="307.8" r="1.95" fill="#1b8a9e"/>
<rect x="160.87" y="299.84999999999997" width="3.7" height="3.7" fill="#111"/>
<circle cx="186.30" cy="313.6" r="1.95" fill="#1b8a9e"/>
<rect x="184.45" y="303.75" width="3.7" height="3.7" fill="#111"/>
<circle cx="209.88" cy="312.4" r="1.95" fill="#1b8a9e"/>
<rect x="208.03" y="304.34999999999997" width="3.7" height="3.7" fill="#111"/>
<line x1="64.20" y1="259.00" x2="74.10" y2="259.00" stroke="#111" stroke-width="1.1" />
<rect x="67.25" y="257.15" width="3.7" height="3.7" fill="#111"/>
<line x1="64.20" y1="268.90" x2="74.10" y2="268.90" stroke="#1b8a9e" stroke-width="1.1" />
<circle cx="69.1" cy="268.9" r="1.95" fill="#1b8a9e"/>
<text x="80.10" y="261.70" font-size="7.8" text-anchor="start" fill="#111" stroke="#111" stroke-width="0.15" font-weight="normal" >3R Cecum</text>
<text x="80.10" y="271.60" font-size="7.8" text-anchor="start" fill="#111" stroke="#111" stroke-width="0.15" font-weight="normal" >8R Cecum</text>
<text x="374.00" y="262.80" font-size="10" text-anchor="start" fill="#222"  font-weight="normal" >f</text>
<line x1="430.75" y1="257.60" x2="430.75" y2="363.90" stroke="#111" stroke-width="1.2" />
<line x1="430.20" y1="363.30" x2="617.50" y2="363.30" stroke="#111" stroke-width="1.1" />
<line x1="427.90" y1="363.30" x2="431.00" y2="363.30" stroke="#111" stroke-width="1.15" />
<text x="427.20" y="365.32" font-size="5.6" text-anchor="end" fill="#1a1a1a" stroke="#1a1a1a" stroke-width="0.18" font-weight="bold">10<tspan font-size="3.8" dy="-2.24" dx="0">1</tspan></text>
<line x1="427.90" y1="350.15" x2="431.00" y2="350.15" stroke="#111" stroke-width="1.15" />
<text x="427.20" y="352.17" font-size="5.6" text-anchor="end" fill="#1a1a1a" stroke="#1a1a1a" stroke-width="0.18" font-weight="bold">10<tspan font-size="3.8" dy="-2.24" dx="0">2</tspan></text>
<line x1="427.90" y1="337.00" x2="431.00" y2="337.00" stroke="#111" stroke-width="1.15" />
<text x="427.20" y="339.02" font-size="5.6" text-anchor="end" fill="#1a1a1a" stroke="#1a1a1a" stroke-width="0.18" font-weight="bold">10<tspan font-size="3.8" dy="-2.24" dx="0">3</tspan></text>
<line x1="427.90" y1="323.85" x2="431.00" y2="323.85" stroke="#111" stroke-width="1.15" />
<text x="427.20" y="325.87" font-size="5.6" text-anchor="end" fill="#1a1a1a" stroke="#1a1a1a" stroke-width="0.18" font-weight="bold">10<tspan font-size="3.8" dy="-2.24" dx="0">4</tspan></text>
<line x1="427.90" y1="310.70" x2="431.00" y2="310.70" stroke="#111" stroke-width="1.15" />
<text x="427.20" y="312.72" font-size="5.6" text-anchor="end" fill="#1a1a1a" stroke="#1a1a1a" stroke-width="0.18" font-weight="bold">10<tspan font-size="3.8" dy="-2.24" dx="0">5</tspan></text>
<line x1="427.90" y1="297.55" x2="431.00" y2="297.55" stroke="#111" stroke-width="1.15" />
<text x="427.20" y="299.57" font-size="5.6" text-anchor="end" fill="#1a1a1a" stroke="#1a1a1a" stroke-width="0.18" font-weight="bold">10<tspan font-size="3.8" dy="-2.24" dx="0">6</tspan></text>
<line x1="427.90" y1="284.40" x2="431.00" y2="284.40" stroke="#111" stroke-width="1.15" />
<text x="427.20" y="286.42" font-size="5.6" text-anchor="end" fill="#1a1a1a" stroke="#1a1a1a" stroke-width="0.18" font-weight="bold">10<tspan font-size="3.8" dy="-2.24" dx="0">7</tspan></text>
<line x1="427.90" y1="271.25" x2="431.00" y2="271.25" stroke="#111" stroke-width="1.15" />
<text x="427.20" y="273.27" font-size="5.6" text-anchor="end" fill="#1a1a1a" stroke="#1a1a1a" stroke-width="0.18" font-weight="bold">10<tspan font-size="3.8" dy="-2.24" dx="0">8</tspan></text>
<line x1="427.90" y1="258.10" x2="431.00" y2="258.10" stroke="#111" stroke-width="1.15" />
<text x="427.20" y="260.12" font-size="5.6" text-anchor="end" fill="#1a1a1a" stroke="#1a1a1a" stroke-width="0.18" font-weight="bold">10<tspan font-size="3.8" dy="-2.24" dx="0">9</tspan></text>
<line x1="448.40" y1="363.30" x2="448.40" y2="366.30" stroke="#111" stroke-width="1" />
<text x="448.40" y="373.20" font-size="5.4" text-anchor="middle" fill="#222" stroke="#222" stroke-width="0.15" font-weight="bold" >10</text>
<line x1="473.72" y1="363.30" x2="473.72" y2="366.30" stroke="#111" stroke-width="1" />
<text x="473.72" y="373.20" font-size="5.4" text-anchor="middle" fill="#222" stroke="#222" stroke-width="0.15" font-weight="bold" >13</text>
<line x1="499.04" y1="363.30" x2="499.04" y2="366.30" stroke="#111" stroke-width="1" />
<text x="499.04" y="373.20" font-size="5.4" text-anchor="middle" fill="#222" stroke="#222" stroke-width="0.15" font-weight="bold" >19</text>
<line x1="524.36" y1="363.30" x2="524.36" y2="366.30" stroke="#111" stroke-width="1" />
<text x="524.36" y="373.20" font-size="5.4" text-anchor="middle" fill="#222" stroke="#222" stroke-width="0.15" font-weight="bold" >26</text>
<line x1="549.68" y1="363.30" x2="549.68" y2="366.30" stroke="#111" stroke-width="1" />
<text x="549.68" y="373.20" font-size="5.4" text-anchor="middle" fill="#222" stroke="#222" stroke-width="0.15" font-weight="bold" >33</text>
<line x1="575.00" y1="363.30" x2="575.00" y2="366.30" stroke="#111" stroke-width="1" />
<text x="575.00" y="373.20" font-size="5.4" text-anchor="middle" fill="#222" stroke="#222" stroke-width="0.15" font-weight="bold" >40</text>
<line x1="600.32" y1="363.30" x2="600.32" y2="366.30" stroke="#111" stroke-width="1" />
<text x="600.32" y="373.20" font-size="5.4" text-anchor="middle" fill="#222" stroke="#222" stroke-width="0.15" font-weight="bold" >47</text>
<text x="519.00" y="383.90" font-size="5.6" text-anchor="middle" fill="#333" stroke="#333" stroke-width="0.15" font-weight="normal" >Time(day)</text>
<text x="0" y="0" font-size="7.8" text-anchor="middle" fill="#111" stroke="#111" stroke-width="0.15" transform="translate(414.2,310.2) rotate(-90)">CFU/g</text>
<line x1="432.00" y1="350.50" x2="613.00" y2="350.50" stroke="#333" stroke-width="1.0" stroke-dasharray="1,1"/>
<text x="614.20" y="352.40" font-size="5.25" text-anchor="start" fill="#333" stroke="#333" stroke-width="0.15" font-weight="normal" >DTL</text>
<line x1="473.72" y1="281.00" x2="473.72" y2="286.00" stroke="#555" stroke-width="0.7" />
<line x1="472.22" y1="281.00" x2="475.22" y2="281.00" stroke="#555" stroke-width="0.7" />
<line x1="472.22" y1="286.00" x2="475.22" y2="286.00" stroke="#555" stroke-width="0.7" />
<line x1="499.04" y1="299.50" x2="499.04" y2="304.90" stroke="#555" stroke-width="0.7" />
<line x1="497.54" y1="299.50" x2="500.54" y2="299.50" stroke="#555" stroke-width="0.7" />
<line x1="497.54" y1="304.90" x2="500.54" y2="304.90" stroke="#555" stroke-width="0.7" />
<line x1="473.72" y1="291.50" x2="473.72" y2="298.00" stroke="#6ab" stroke-width="0.7" />
<line x1="472.22" y1="291.50" x2="475.22" y2="291.50" stroke="#6ab" stroke-width="0.7" />
<line x1="472.22" y1="298.00" x2="475.22" y2="298.00" stroke="#6ab" stroke-width="0.7" />
<line x1="499.04" y1="318.00" x2="499.04" y2="323.00" stroke="#6ab" stroke-width="0.7" />
<line x1="497.54" y1="318.00" x2="500.54" y2="318.00" stroke="#6ab" stroke-width="0.7" />
<line x1="497.54" y1="323.00" x2="500.54" y2="323.00" stroke="#6ab" stroke-width="0.7" />
<line x1="524.36" y1="287.10" x2="524.36" y2="300.70" stroke="#555" stroke-width="0.7" />
<line x1="522.86" y1="287.10" x2="525.86" y2="287.10" stroke="#555" stroke-width="0.7" />
<line x1="522.86" y1="300.70" x2="525.86" y2="300.70" stroke="#555" stroke-width="0.7" />
<line x1="524.36" y1="284.30" x2="524.36" y2="306.20" stroke="#5ab3c6" stroke-width="0.7" />
<line x1="522.86" y1="284.30" x2="525.86" y2="284.30" stroke="#5ab3c6" stroke-width="0.7" />
<line x1="522.86" y1="306.20" x2="525.86" y2="306.20" stroke="#5ab3c6" stroke-width="0.7" />
<line x1="549.68" y1="280.50" x2="549.68" y2="289.30" stroke="#555" stroke-width="0.7" />
<line x1="548.18" y1="280.50" x2="551.18" y2="280.50" stroke="#555" stroke-width="0.7" />
<line x1="548.18" y1="289.30" x2="551.18" y2="289.30" stroke="#555" stroke-width="0.7" />
<line x1="549.68" y1="296.50" x2="549.68" y2="304.00" stroke="#6ab" stroke-width="0.7" />
<line x1="548.18" y1="296.50" x2="551.18" y2="296.50" stroke="#6ab" stroke-width="0.7" />
<line x1="548.18" y1="304.00" x2="551.18" y2="304.00" stroke="#6ab" stroke-width="0.7" />
<line x1="549.68" y1="314.50" x2="549.68" y2="323.70" stroke="#6bc" stroke-width="0.7" />
<line x1="548.18" y1="314.50" x2="551.18" y2="314.50" stroke="#6bc" stroke-width="0.7" />
<line x1="548.18" y1="323.70" x2="551.18" y2="323.70" stroke="#6bc" stroke-width="0.7" />
<line x1="575.00" y1="335.30" x2="575.00" y2="347.80" stroke="#555" stroke-width="0.7" />
<line x1="573.50" y1="335.30" x2="576.50" y2="335.30" stroke="#555" stroke-width="0.7" />
<line x1="573.50" y1="347.80" x2="576.50" y2="347.80" stroke="#555" stroke-width="0.7" />
<line x1="575.00" y1="297.50" x2="575.00" y2="302.50" stroke="#6ab" stroke-width="0.7" />
<line x1="573.50" y1="297.50" x2="576.50" y2="297.50" stroke="#6ab" stroke-width="0.7" />
<line x1="573.50" y1="302.50" x2="576.50" y2="302.50" stroke="#6ab" stroke-width="0.7" />
<line x1="575.00" y1="316.00" x2="575.00" y2="322.50" stroke="#555" stroke-width="0.7" />
<line x1="573.50" y1="316.00" x2="576.50" y2="316.00" stroke="#555" stroke-width="0.7" />
<line x1="573.50" y1="322.50" x2="576.50" y2="322.50" stroke="#555" stroke-width="0.7" />
<line x1="524.36" y1="319.00" x2="524.36" y2="323.50" stroke="#555" stroke-width="0.7" />
<line x1="522.86" y1="319.00" x2="525.86" y2="319.00" stroke="#555" stroke-width="0.7" />
<line x1="522.86" y1="323.50" x2="525.86" y2="323.50" stroke="#555" stroke-width="0.7" />
<polyline points="524.36,342.40 549.68,317.10 575.00,317.10 600.32,343.20" fill="none" stroke="#1d93ab" stroke-width="1.15" stroke-dasharray="2,1.2"/>
<polyline points="499.04,345.00 524.36,321.10 549.68,300.70 575.00,338.40 600.32,349.40" fill="none" stroke="#111" stroke-width="1.15" stroke-dasharray="2,1.2"/>
<polyline points="448.40,287.00 473.72,293.30 499.04,320.00 524.36,288.00 549.68,299.20 575.00,299.60 600.32,321.00" fill="none" stroke="#1a8ca0" stroke-width="1.0" />
<polyline points="448.40,273.10 473.72,283.10 499.04,301.40 524.36,290.40 549.68,283.80 575.00,320.00 600.32,325.60" fill="none" stroke="#111" stroke-width="1.0" />
<circle cx="448.40" cy="273.1" r="1.75" fill="#000"/>
<circle cx="473.72" cy="283.1" r="1.75" fill="#000"/>
<circle cx="499.04" cy="301.4" r="1.75" fill="#000"/>
<circle cx="524.36" cy="290.4" r="1.75" fill="#000"/>
<circle cx="549.68" cy="283.8" r="1.75" fill="#000"/>
<circle cx="575.00" cy="320.0" r="1.75" fill="#000"/>
<circle cx="600.32" cy="325.6" r="1.75" fill="#000"/>
<circle cx="499.04" cy="345.0" r="1.75" fill="#000"/>
<circle cx="524.36" cy="321.1" r="1.75" fill="#000"/>
<circle cx="549.68" cy="300.7" r="1.75" fill="#000"/>
<circle cx="575.00" cy="338.4" r="1.75" fill="#000"/>
<circle cx="600.32" cy="349.4" r="1.75" fill="#000"/>
<rect x="446.70" y="285.3" width="3.4" height="3.4" fill="#1a8ca0"/>
<rect x="472.02" y="291.6" width="3.4" height="3.4" fill="#1a8ca0"/>
<rect x="497.34" y="318.3" width="3.4" height="3.4" fill="#1a8ca0"/>
<rect x="522.66" y="286.3" width="3.4" height="3.4" fill="#1a8ca0"/>
<rect x="547.98" y="297.5" width="3.4" height="3.4" fill="#1a8ca0"/>
<rect x="573.30" y="297.90000000000003" width="3.4" height="3.4" fill="#1a8ca0"/>
<rect x="598.62" y="319.3" width="3.4" height="3.4" fill="#1a8ca0"/>
<rect x="522.66" y="340.7" width="3.4" height="3.4" fill="#1d93ab"/>
<rect x="547.98" y="315.40000000000003" width="3.4" height="3.4" fill="#1d93ab"/>
<rect x="573.30" y="315.40000000000003" width="3.4" height="3.4" fill="#1d93ab"/>
<rect x="598.62" y="341.5" width="3.4" height="3.4" fill="#1d93ab"/>
<line x1="515.10" y1="259.60" x2="522.90" y2="259.60" stroke="#111" stroke-width="1" />
<circle cx="519.2" cy="259.6" r="1.75" fill="#000"/>
<line x1="515.10" y1="268.90" x2="522.90" y2="268.90" stroke="#111" stroke-width="1.15" stroke-dasharray="2,1.2"/>
<circle cx="519.2" cy="268.9" r="1.75" fill="#000"/>
<line x1="580.50" y1="259.00" x2="588.80" y2="259.00" stroke="#1a8ca0" stroke-width="1" />
<rect x="582.8" y="257.3" width="3.4" height="3.4" fill="#1a8ca0"/>
<line x1="580.50" y1="270.40" x2="588.80" y2="270.40" stroke="#1d93ab" stroke-width="1.15" stroke-dasharray="2,1.2"/>
<rect x="582.8" y="268.7" width="3.4" height="3.4" fill="#1d93ab"/>
<text x="527.30" y="261.30" font-size="5.75" text-anchor="start" fill="#222" stroke="#222" stroke-width="0.15" font-weight="normal" >3R-Total</text>
<text x="527.30" y="271.20" font-size="5.75" text-anchor="start" fill="#222" stroke="#222" stroke-width="0.15" font-weight="normal" >3R-Transfer</text>
<text x="592.90" y="261.30" font-size="5.75" text-anchor="start" fill="#222" stroke="#222" stroke-width="0.15" font-weight="normal" >8R-Total</text>
<text x="592.90" y="272.50" font-size="5.75" text-anchor="start" fill="#222" stroke="#222" stroke-width="0.15" font-weight="normal" >8R-Transfer</text>
</svg>
</body></html>
